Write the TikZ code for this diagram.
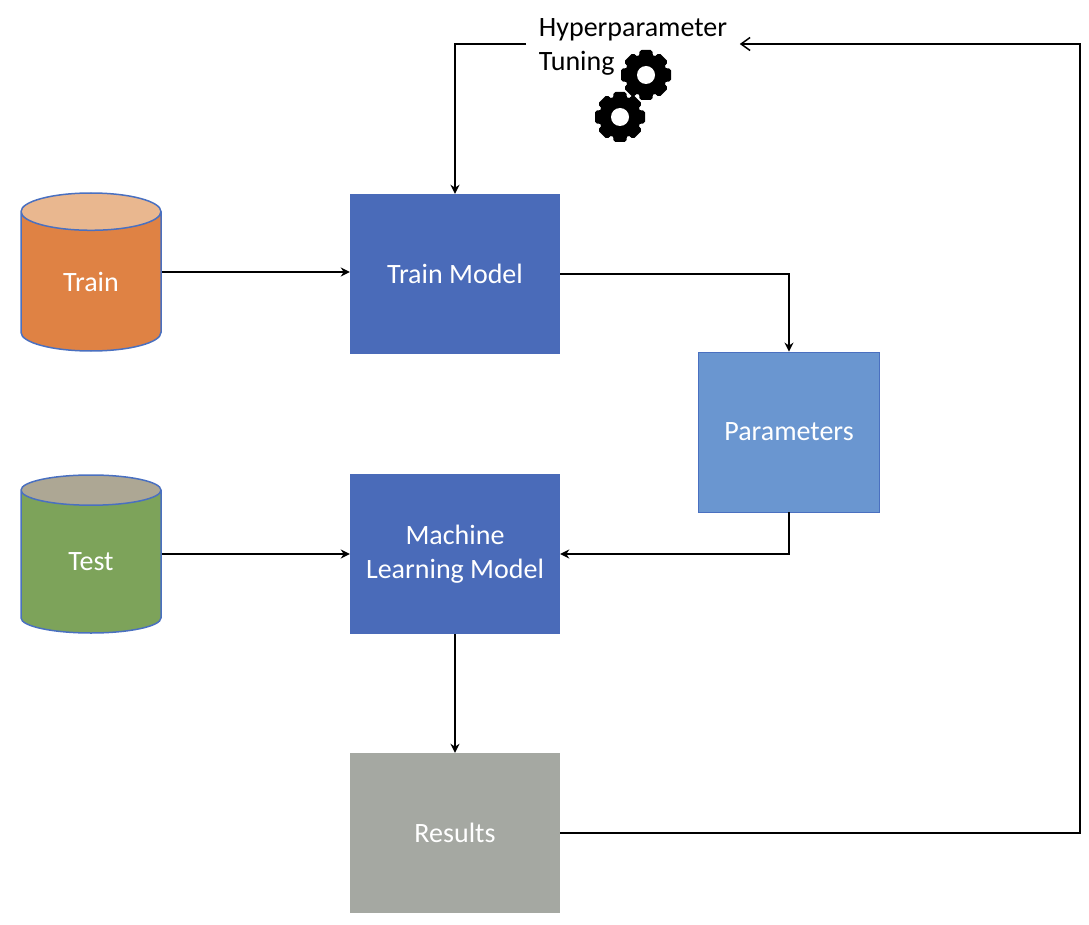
\documentclass[tikz,border=0pt]{standalone}
\usepackage{fontspec}
\setmainfont{Carlito}
\usetikzlibrary{shapes.geometric,arrows.meta}
\definecolor{boxblue}{HTML}{4A6BB9}
\definecolor{paramblue}{HTML}{6A96D0}
\definecolor{edgeblue}{HTML}{4A70C0}
\definecolor{trainbody}{HTML}{DF8244}
\definecolor{traintop}{HTML}{E9B78F}
\definecolor{testbody}{HTML}{7DA35A}
\definecolor{testtop}{HTML}{ADA794}
\definecolor{resultgray}{HTML}{A5A8A2}
\tikzset{
	blockbox/.style={rectangle,minimum width=210,minimum height=160,inner sep=0,align=center,text=white,font=\fontsize{28}{34}\selectfont},
	dbcyl/.style={cylinder,shape border rotate=90,aspect=0.67,minimum width=140,minimum height=158,anchor=shape center,draw=edgeblue,line width=1.5,cylinder uses custom fill,inner sep=0,text=white,font=\fontsize{28}{34}\selectfont},
	conn/.style={draw=black,line width=1.5,-{Stealth[length=9,width=9]}},
	gear/.pic={
		\foreach \a in {0,45,...,315}
			\fill[black,rotate=\a,rounded corners=2] (-8,0)--(-6.5,25)--(6.5,25)--(8,0)--cycle;
		\fill[black] (0,0) circle (21);
		\fill[white] (0,0) circle (9);
	}
}
\begin{document}
\begin{tikzpicture}[x=1pt,y=-1pt]
	\useasboundingbox (0,0) rectangle (1089,925);
	\node[dbcyl,cylinder body fill=trainbody,cylinder end fill=traintop] (trainDb) at (91,272) {Train};
	\node[dbcyl,cylinder body fill=testbody,cylinder end fill=testtop] (testDb) at (91,554) {Test};
	\node[blockbox,fill=boxblue] (trainBox) at (455,274) {Train Model};
	\node[blockbox,fill=boxblue] (modelBox) at (455,554) {Machine\\Learning Model};
	\node[blockbox,fill=resultgray] (resultBox) at (455,833) {Results};
	\node[blockbox,minimum width=181,fill=paramblue,draw=edgeblue,line width=0.8] (paramBox) at (789,432) {Parameters};
	\node[align=left,inner xsep=12.5,inner ysep=0,font=\fontsize{28}{34}\selectfont] (tuning) at (633,47) {Hyperparameter\\Tuning};
	\pic at (646,75) {gear};
	\pic at (620,117) {gear};
	\coordinate (loopRight) at (1080,833);
	\coordinate (loopTop) at (1080,44);

	\draw[conn] (trainDb.east |- trainDb.shape center) -- (trainDb.shape center -| trainBox.west);
	\draw[conn] (testDb.east |- testDb.shape center) -- (testDb.shape center -| modelBox.west);
	\draw[conn] ([yshift=3]tuning.west) -| (trainBox.north);
	\draw[conn] (trainBox.east) -| (paramBox.north);
	\draw[conn] (paramBox.south) |- (modelBox.east);
	\draw[conn] (modelBox.south) -- (resultBox.north);
	\draw[line width=1.5,-{Straight Barb[length=9,width=13]}] (resultBox.east) -- (loopRight) -- (loopTop) -- ([yshift=3]tuning.east);
\end{tikzpicture}
\end{document}
